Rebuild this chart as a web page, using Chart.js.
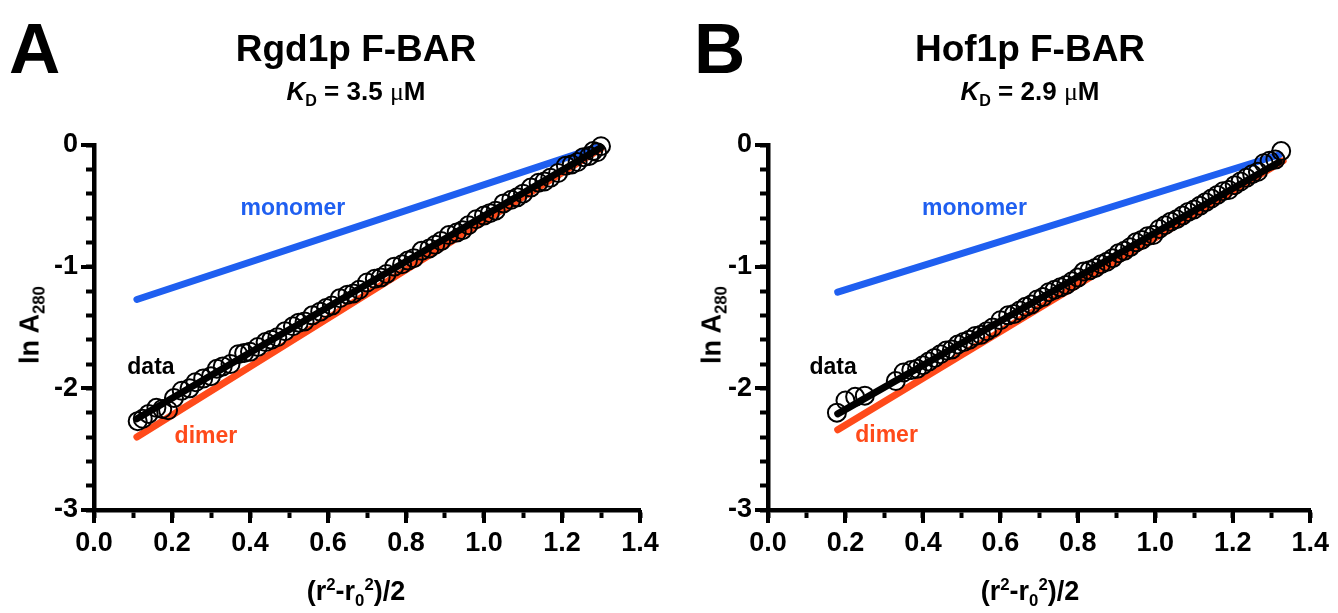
<!DOCTYPE html>
<html>
<head>
<meta charset="utf-8">
<script src="https://cdn.jsdelivr.net/npm/chart.js@4"></script>
<style>
  body { margin: 0; background: #fff; }
  #wrap { position: relative; width: 1338px; height: 613px; overflow: hidden; font-family: "Liberation Sans", Arial, sans-serif; font-weight: bold; color: #000; }
  canvas { position: absolute; top: 0; }
  .t { position: absolute; line-height: 1; white-space: nowrap; text-align: center; }
  .mu { font-family: "Liberation Serif", "Times New Roman", serif; font-weight: normal; }
  sub, sup { font-size: 62%; line-height: 0; }
</style>
</head>
<body>
<div id="wrap">
  <canvas id="chartA" width="669" height="613" style="left:0"></canvas>
  <canvas id="chartB" width="669" height="613" style="left:669px"></canvas>

  <div class="t" style="left:9px;top:13px;font-size:71px">A</div>
  <div class="t" style="left:694px;top:13px;font-size:71px">B</div>

  <div class="t" style="left:156px;width:400px;top:30px;font-size:37px">Rgd1p F-BAR</div>
  <div class="t" style="left:156px;width:400px;top:78px;font-size:26px"><i>K</i><sub>D</sub> = 3.5 <span class="mu">μ</span>M</div>
  <div class="t" style="left:830px;width:400px;top:30px;font-size:37px">Hof1p F-BAR</div>
  <div class="t" style="left:830px;width:400px;top:78px;font-size:26px"><i>K</i><sub>D</sub> = 2.9 <span class="mu">μ</span>M</div>

  <div class="t" style="left:30px;top:325px;font-size:27px;transform:translate(-50%,-50%) rotate(-90deg)">ln A<sub>280</sub></div>
  <div class="t" style="left:712px;top:325px;font-size:27px;transform:translate(-50%,-50%) rotate(-90deg)">ln A<sub>280</sub></div>

  <div class="t" style="left:156px;width:400px;top:578px;font-size:27px">(r<sup>2</sup>-r<sub>0</sub><sup>2</sup>)/2</div>
  <div class="t" style="left:830px;width:400px;top:578px;font-size:27px">(r<sup>2</sup>-r<sub>0</sub><sup>2</sup>)/2</div>
</div>

<script>
// ---- panel A: Rgd1p F-BAR ----
const xA = [0.112, 0.125, 0.14, 0.16, 0.175, 0.19, 0.205, 0.225, 0.245, 0.26, 0.28, 0.30, 0.315, 0.33, 0.35,
  0.37, 0.385, 0.40, 0.42, 0.44, 0.455, 0.47, 0.49, 0.51, 0.525, 0.54, 0.56, 0.58, 0.595, 0.61,
  0.63, 0.65, 0.665, 0.68, 0.70, 0.72, 0.735, 0.75, 0.77, 0.79, 0.805, 0.82, 0.84, 0.86, 0.875,
  0.89, 0.91, 0.93, 0.945, 0.96, 0.98, 1.0, 1.015, 1.03, 1.05, 1.07, 1.085, 1.10, 1.12, 1.14,
  1.155, 1.17, 1.19, 1.21, 1.225, 1.24, 1.255, 1.27, 1.28, 1.29, 1.30];
const yA = [-2.27, -2.25, -2.21, -2.16, -2.17, -2.18, -2.08, -2.02, -2.00, -1.95, -1.92, -1.90, -1.84, -1.82, -1.80,
  -1.72, -1.71, -1.70, -1.66, -1.62, -1.60, -1.58, -1.53, -1.49, -1.46, -1.45, -1.40, -1.37, -1.34, -1.32,
  -1.26, -1.23, -1.22, -1.19, -1.13, -1.10, -1.09, -1.06, -1.00, -0.98, -0.95, -0.93, -0.87, -0.85, -0.82,
  -0.79, -0.74, -0.72, -0.70, -0.66, -0.61, -0.58, -0.56, -0.54, -0.48, -0.45, -0.43, -0.40, -0.35, -0.31,
  -0.30, -0.27, -0.23, -0.17, -0.16, -0.14, -0.10, -0.09, -0.05, -0.06, -0.01];
const fitA = [[0.11, -2.25], [1.30, -0.02]];
const monomerA = [[0.11, -1.27], [1.29, -0.02]];
const dimerA = [[0.11, -2.40], [1.30, -0.03]];

// ---- panel B: Hof1p F-BAR ----
const xB = [0.178, 0.20, 0.225, 0.25, 0.33, 0.35, 0.37, 0.385, 0.40, 0.415, 0.43, 0.445, 0.46, 0.475, 0.49,
  0.505, 0.52, 0.535, 0.55, 0.565, 0.58, 0.60, 0.62, 0.635, 0.65, 0.665, 0.68, 0.695, 0.71, 0.725,
  0.74, 0.755, 0.77, 0.785, 0.80, 0.815, 0.83, 0.845, 0.86, 0.875, 0.89, 0.905, 0.92, 0.935, 0.95,
  0.965, 0.98, 0.995, 1.01, 1.025, 1.04, 1.055, 1.07, 1.085, 1.10, 1.115, 1.13, 1.145, 1.16, 1.175,
  1.19, 1.205, 1.22, 1.235, 1.25, 1.265, 1.28, 1.295, 1.31, 1.325];
const yB = [-2.20, -2.10, -2.07, -2.06, -1.94, -1.87, -1.85, -1.84, -1.81, -1.78, -1.75, -1.72, -1.69, -1.68, -1.64,
  -1.62, -1.60, -1.57, -1.56, -1.53, -1.50, -1.44, -1.40, -1.39, -1.36, -1.33, -1.31, -1.27, -1.25, -1.21,
  -1.19, -1.17, -1.15, -1.12, -1.09, -1.04, -1.03, -1.01, -0.98, -0.96, -0.93, -0.89, -0.87, -0.84, -0.80,
  -0.78, -0.75, -0.74, -0.69, -0.66, -0.63, -0.61, -0.58, -0.55, -0.53, -0.50, -0.47, -0.44, -0.41, -0.38,
  -0.37, -0.33, -0.30, -0.27, -0.24, -0.22, -0.15, -0.13, -0.12, -0.05];
const fitB = [[0.18, -2.21], [1.32, -0.14]];
const monomerB = [[0.18, -1.21], [1.32, -0.08]];
const dimerB = [[0.18, -2.34], [1.33, -0.13]];

// line labels, in data units: [text, x, y, colour]
const labelsA = [['monomer', 0.51, -0.52, '#1f5ff0'], ['data', 0.146, -1.83, '#000'], ['dimer', 0.287, -2.40, '#ff4a1a']];
const labelsB = [['monomer', 0.533, -0.52, '#1f5ff0'], ['data', 0.168, -1.83, '#000'], ['dimer', 0.306, -2.39, '#ff4a1a']];

const BLUE = '#1f5ff0';
const RED = '#ff4a1a';
const tickFont = { family: '"Liberation Sans", Arial, sans-serif', size: 27, weight: 'bold' };

function toPts(pairs) {
    return pairs.map(p => ({ x: p[0], y: p[1] }));
}

// longer ticks at the labelled values + the line labels
const extras = {
    id: 'extras',
    afterDraw(chart, args, opts) {
        const c = chart.ctx, a = chart.chartArea;
        const sx = chart.scales.x, sy = chart.scales.y;
        c.save();
        c.strokeStyle = '#000';
        c.lineWidth = 4;
        c.lineCap = 'butt';
        sy.ticks.forEach(t => {
            if (t.label === '') return;
            const py = Math.round(sy.getPixelForValue(t.value));
            c.beginPath(); c.moveTo(a.left, py); c.lineTo(a.left - 13, py); c.stroke();
        });
        sx.ticks.forEach(t => {
            if (t.label === '') return;
            const px = Math.round(sx.getPixelForValue(t.value));
            c.beginPath(); c.moveTo(px, a.bottom); c.lineTo(px, a.bottom + 13); c.stroke();
        });
        c.font = 'bold 23px "Liberation Sans", Arial, sans-serif';
        c.textAlign = 'center';
        c.textBaseline = 'middle';
        opts.labels.forEach(l => {
            c.fillStyle = l[3];
            c.fillText(l[0], sx.getPixelForValue(l[1]), sy.getPixelForValue(l[2]));
        });
        c.restore();
    }
};

function SetupChart(canvasId, xs, ys, fit, mono, dimer, labels, yAxisWidth, rightPad) {
    const ctx = document.getElementById(canvasId).getContext('2d');
    const lineDs = (data, color, order) => ({
        type: 'line',
        data: toPts(data),
        borderColor: color,
        borderWidth: 7,
        borderCapStyle: 'round',
        pointRadius: 0,
        showLine: true,
        clip: false,
        order: order
    });
    return new Chart(ctx, {
        type: 'scatter',
        data: {
            datasets: [
                lineDs(fit, '#000', 0),
                {
                    data: xs.map((x, i) => ({ x: x, y: ys[i] })),
                    pointRadius: 9,
                    pointBorderWidth: 2,
                    pointBorderColor: '#000',
                    pointBackgroundColor: 'rgba(0,0,0,0)',
                    clip: false,
                    order: 1
                },
                lineDs(dimer, RED, 2),
                lineDs(mono, BLUE, 3)
            ]
        },
        options: {
            responsive: false,
            animation: false,
            devicePixelRatio: 1,
            layout: { padding: { top: 145, left: 0, right: rightPad, bottom: 43 } },
            plugins: {
                legend: { display: false },
                tooltip: { enabled: false },
                extras: { labels: labels }
            },
            scales: {
                x: {
                    type: 'linear',
                    min: 0,
                    max: 1.4,
                    afterFit: s => { s.height = 60; },
                    border: { display: true, color: '#000', width: 4.5 },
                    grid: { drawOnChartArea: false, drawTicks: true, tickLength: 8, tickWidth: 4, tickColor: '#000' },
                    ticks: {
                        stepSize: 0.1,
                        autoSkip: false,
                        maxRotation: 0,
                        padding: 9,
                        color: '#000',
                        font: tickFont,
                        callback: v => (Math.round(v * 10) % 2 === 0 ? v.toFixed(1) : '')
                    }
                },
                y: {
                    type: 'linear',
                    min: -3,
                    max: 0,
                    afterFit: s => { s.width = yAxisWidth; },
                    border: { display: true, color: '#000', width: 4.5 },
                    grid: { drawOnChartArea: false, drawTicks: true, tickLength: 8, tickWidth: 4, tickColor: '#000' },
                    ticks: {
                        stepSize: 0.2,
                        autoSkip: false,
                        padding: 8,
                        color: '#000',
                        font: tickFont,
                        callback: v => (Math.abs(v - Math.round(v)) < 1e-6 ? String(Math.round(v)) : '')
                    }
                }
            }
        },
        plugins: [extras]
    });
}

SetupChart('chartA', xA, yA, fitA, monomerA, dimerA, labelsA, 94, 29);
SetupChart('chartB', xB, yB, fitB, monomerB, dimerB, labelsB, 99, 21);
</script>
</body>
</html>
